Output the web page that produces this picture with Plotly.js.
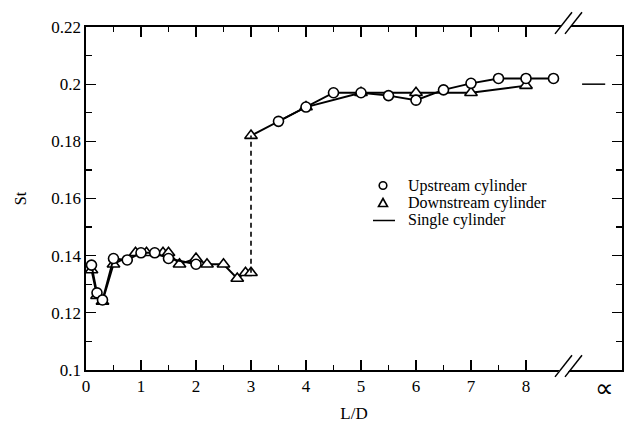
<!DOCTYPE html>
<html><head><meta charset="utf-8">
<script src="https://cdn.plot.ly/plotly-3.0.1.min.js"></script>
<style>html,body{margin:0;padding:0;background:#fff}#chart{width:624px;height:427px}</style>
</head><body><div id="chart"></div>
<script>
// ---- data ----
const upLowL   = [0.1, 0.2, 0.3, 0.5, 0.75, 1.0, 1.25, 1.5, 2.0];
const upLowSt  = [0.1367, 0.127, 0.1245, 0.139, 0.1385, 0.141, 0.141, 0.139, 0.137];
const upHighL  = [3.5, 4, 4.5, 5, 5.5, 6, 6.5, 7, 7.5, 8, 8.5];
const upHighSt = [0.187, 0.192, 0.197, 0.197, 0.196, 0.1944, 0.198, 0.2003, 0.202, 0.202, 0.202];
const downLowL   = [0.1, 0.2, 0.3, 0.5, 0.9, 1.1, 1.4, 1.5, 1.7, 2.0, 2.2, 2.5, 2.75, 2.9, 3.0];
const downLowSt  = [0.135, 0.126, 0.124, 0.137, 0.141, 0.141, 0.141, 0.141, 0.137, 0.139, 0.137, 0.137, 0.132, 0.134, 0.134];
const downHighL  = [3, 4, 5, 6, 7, 8];
const downHighSt = [0.182, 0.192, 0.197, 0.197, 0.197, 0.1995];
const singleSt = 0.2;
const xTickVals = [0, 1, 2, 3, 4, 5, 6, 7, 8];
const xMinorVals = [0.5, 1.5, 2.5, 3.5, 4.5, 5.5, 6.5, 7.5];
const yTickVals = [0.1, 0.12, 0.14, 0.16, 0.18, 0.2, 0.22];
const yMinorVals = [0.11, 0.13, 0.15, 0.17, 0.19, 0.21];
const legendNames = ['Upstream cylinder', 'Downstream cylinder', 'Single cylinder'];
const infLabel = '\u221D';

// ---- layout geometry ----
const W = 624, H = 427, M = {l: 86, r: 2, t: 27, b: 57};
const PW = W - M.l - M.r, PH = H - M.t - M.b;
const xMax = PW / 55;
const px = x => (x - M.l) / PW;
const py = y => (H - M.b - y) / PH;
const FONT = 'Liberation Serif, Times New Roman, serif';

const lineStyle = {color: '#000', width: 1.9};
const circ = {symbol: 'circle', size: 10, color: '#fff', line: {color: '#000', width: 1.6}};
const tri = {symbol: 'triangle-up', size: 11, color: '#fff', line: {color: '#000', width: 1.6}};

const traces = [
  {x: downLowL, y: downLowSt, mode: 'lines+markers', line: lineStyle, marker: tri, name: legendNames[1], showlegend: false},
  {x: downHighL, y: downHighSt, mode: 'lines+markers', line: lineStyle, marker: tri, name: legendNames[1], showlegend: false},
  {x: [downLowL[downLowL.length - 1], downHighL[0]], y: [downLowSt[downLowSt.length - 1], downHighSt[0]],
   mode: 'lines', line: {color: '#000', width: 1.6, dash: '5px,4px'}, showlegend: false},
  {x: upLowL, y: upLowSt, mode: 'lines+markers', line: lineStyle, marker: circ, name: legendNames[0], showlegend: false},
  {x: upHighL, y: upHighSt, mode: 'lines+markers', line: lineStyle, marker: circ, name: legendNames[0], showlegend: false},
  {x: [9.02, 9.44], y: [singleSt, singleSt], mode: 'lines', line: {color: '#000', width: 1.5}, name: legendNames[2], showlegend: false}
];

// legend (drawn as shapes + text)
const legRows = [185.5, 203, 220.5];
const legSym = 383, legText = 406;
const shapes = [
  {type: 'circle', xref: 'paper', yref: 'paper', x0: px(legSym - 3.8), x1: px(legSym + 3.8), y0: py(legRows[0] + 3.8), y1: py(legRows[0] - 3.8), line: {color: '#000', width: 1.6}},
  {type: 'path', xref: 'paper', yref: 'paper',
   path: `M ${px(legSym - 4.5)} ${py(legRows[1] + 3.5)} L ${px(legSym + 4.5)} ${py(legRows[1] + 3.5)} L ${px(legSym)} ${py(legRows[1] - 4.5)} Z`,
   line: {color: '#000', width: 1.6}},
  {type: 'line', xref: 'paper', yref: 'paper', x0: px(373), x1: px(395), y0: py(legRows[2]), y1: py(legRows[2]), line: {color: '#000', width: 1.5}}
];
// axis break marks (bottom and top)
[0, 1].forEach(yb => {
  const y0 = yb - 0.02, y1 = yb + 0.043;
  const a0 = px(555), a1 = px(572), b0 = px(565), b1 = px(582);
  shapes.push({type: 'path', xref: 'paper', yref: 'paper', path: `M ${a0+0.004} ${y0+0.012} L ${a1-0.004} ${y1-0.012} L ${b1-0.004} ${y1-0.012} L ${b0+0.004} ${y0+0.012} Z`, fillcolor: '#fff', line: {width: 0}});
  shapes.push({type: 'line', xref: 'paper', yref: 'paper', x0: a0, x1: a1, y0: y0, y1: y1, line: {color: '#000', width: 1.5}});
  shapes.push({type: 'line', xref: 'paper', yref: 'paper', x0: b0, x1: b1, y0: y0, y1: y1, line: {color: '#000', width: 1.5}});
});

const annotations = legendNames.map((t, i) => ({
  text: t, xref: 'paper', yref: 'paper', x: px(legText), y: py(legRows[i]), xanchor: 'left', yanchor: 'middle',
  showarrow: false, font: {family: FONT, size: 16, color: '#000'}
}));
annotations.push({text: infLabel, xref: 'paper', yref: 'paper', x: px(604), y: py(388), xanchor: 'center', yanchor: 'middle',
  showarrow: false, font: {family: FONT, size: 26, color: '#000'}});

const axisCommon = {
  showline: true, linecolor: '#000', linewidth: 1.6, mirror: 'allticks', ticks: 'inside',
  ticklen: 10, tickwidth: 1.3, tickcolor: '#000', showgrid: false, zeroline: false,
  tickfont: {family: FONT, size: 17, color: '#000'}, tickmode: 'array'
};

const layout = {
  width: W, height: H, margin: M, paper_bgcolor: '#fff', plot_bgcolor: '#fff', showlegend: false,
  xaxis: Object.assign({}, axisCommon, {
    range: [0, xMax], tickvals: xTickVals, ticktext: xTickVals.map(String),
    minor: {tickmode: 'array', tickvals: xMinorVals, ticks: 'inside', ticklen: 5, tickwidth: 1.3, tickcolor: '#000', showgrid: false},
    title: {text: 'L/D', font: {family: FONT, size: 17, color: '#000'}, standoff: 12}
  }),
  yaxis: Object.assign({}, axisCommon, {
    range: [0.1, 0.22], tickvals: yTickVals, ticktext: yTickVals.map(v => String(+v.toFixed(2))),
    minor: {tickmode: 'array', tickvals: yMinorVals, ticks: 'inside', ticklen: 6, tickwidth: 1.3, tickcolor: '#000', showgrid: false},
    title: {text: 'St', font: {family: FONT, size: 16, color: '#000'}, standoff: 20}
  }),
  shapes: shapes, annotations: annotations
};

Plotly.newPlot('chart', traces, layout, {staticPlot: true, displayModeBar: false});
</script>
</body></html>
